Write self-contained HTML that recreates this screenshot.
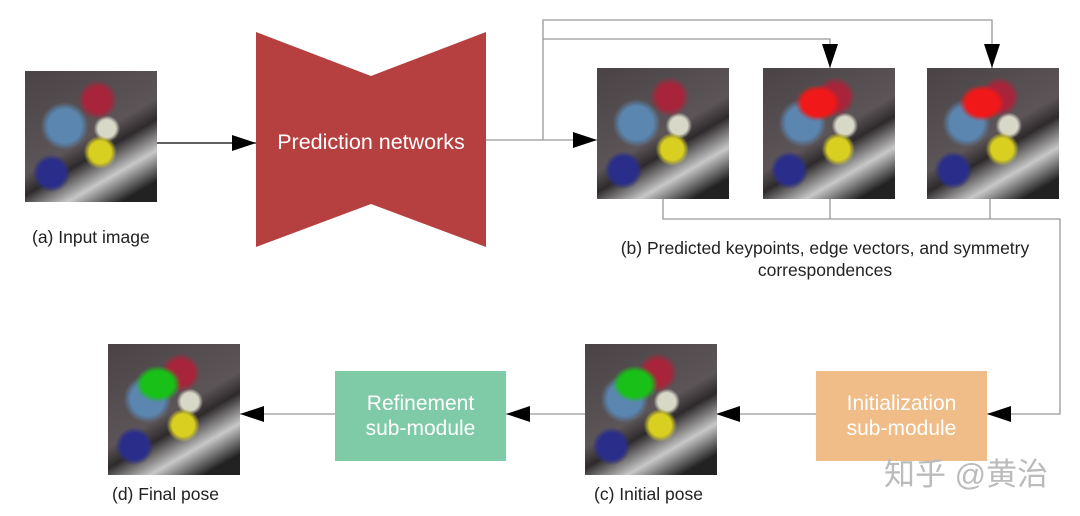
<!DOCTYPE html>
<html><head><style>
body{margin:0;width:1080px;height:516px;background:#fff;position:relative;overflow:hidden;font-family:"Liberation Sans",sans-serif}
.img{position:absolute;width:132px;height:131px;background:
radial-gradient(circle at 55% 22%,#a8243a 0 10%,transparent 16%),
radial-gradient(circle at 30% 42%,#5a86b0 0 14%,transparent 20%),
radial-gradient(circle at 57% 62%,#d8cf20 0 10%,transparent 15%),
radial-gradient(circle at 62% 44%,#d8d8c8 0 8%,transparent 12%),
radial-gradient(circle at 20% 78%,#2a2e8a 0 9%,transparent 13%),
linear-gradient(150deg,#4a4346 0%,#5c5558 50%,#2e2a2c 60%,#c8c8c8 75%,#222 90%)}
.red::after{content:"";position:absolute;left:30px;top:15px;width:50px;height:40px;background:radial-gradient(ellipse,#f01818 0 45%,transparent 65%)}
.grn::after{content:"";position:absolute;left:25px;top:20px;width:50px;height:40px;background:radial-gradient(ellipse,#18c018 0 45%,transparent 65%)}
.t{position:absolute;font-size:17.5px;color:#222;text-align:center;white-space:nowrap}
.box{position:absolute;width:171px;height:90px;color:#fff;font-size:21px;text-align:center;display:flex;align-items:center;justify-content:center;line-height:25px}
</style></head><body>
<svg width="1080" height="516" style="position:absolute;left:0;top:0">
<defs><marker id="a" markerWidth="24" markerHeight="16" refX="24" refY="8" orient="auto" markerUnits="userSpaceOnUse"><path d="M0,0L24,8L0,16z" fill="#000"/></marker></defs>
<polygon points="256,32 371,76 486,32 486,247 371,204 256,247" fill="#b5403f"/>
<text x="371" y="149" fill="#fff" font-size="21.5" text-anchor="middle" font-family="Liberation Sans">Prediction networks</text>
<g stroke="#999" stroke-width="1.3" fill="none">
<line x1="157" y1="143" x2="256" y2="143" stroke="#000" marker-end="url(#a)"/>
<polyline points="486,140 597,140" marker-end="url(#a)"/>
<polyline points="543,140 543,20 992,20 992,68" marker-end="url(#a)"/>
<polyline points="543,39 830,39 830,68" marker-end="url(#a)"/>
<polyline points="663,198 663,219 1060,219 1060,414 987,414" marker-end="url(#a)"/>
<line x1="830" y1="198" x2="830" y2="219"/>
<line x1="990" y1="198" x2="990" y2="219"/>
<line x1="816" y1="414" x2="716" y2="414" marker-end="url(#a)"/>
<line x1="585" y1="414" x2="506" y2="414" marker-end="url(#a)"/>
<line x1="335" y1="414" x2="240" y2="414" marker-end="url(#a)"/>
</g></svg>
<div class="img" style="left:25px;top:71px"></div>
<div class="img" style="left:597px;top:68px"></div>
<div class="img red" style="left:763px;top:68px"></div>
<div class="img red" style="left:927px;top:68px"></div>
<div class="img grn" style="left:585px;top:344px"></div>
<div class="img grn" style="left:108px;top:344px"></div>
<div class="box" style="left:816px;top:371px;background:#f0bd88">Initialization<br>sub-module</div>
<div class="box" style="left:335px;top:371px;background:#7fcba8">Refinement<br>sub-module</div>
<div class="t" style="left:32px;top:227px">(a) Input image</div>
<div class="t" style="left:575px;top:237px;width:500px;line-height:22px">(b) Predicted keypoints, edge vectors, and symmetry<br>correspondences</div>
<div class="t" style="left:594px;top:484px">(c) Initial pose</div>
<div class="t" style="left:112px;top:484px">(d) Final pose</div>
<div style="position:absolute;left:884px;top:449px;font-size:31px;color:#bbb;font-family:'Liberation Sans','Noto Sans CJK SC',sans-serif">知乎 @黄治</div>
</body></html>
